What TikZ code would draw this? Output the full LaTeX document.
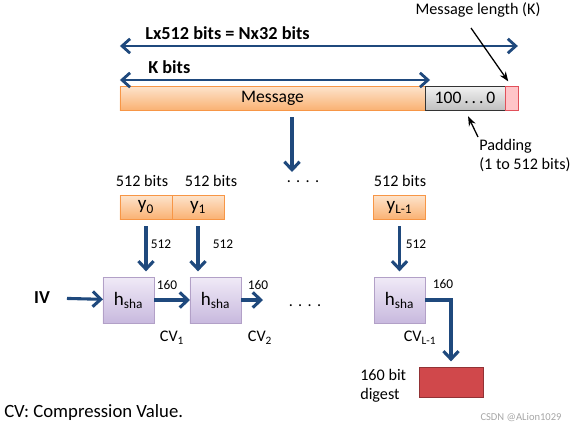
\documentclass[tikz,border=0pt]{standalone}
\usepackage{fontspec}
\setmainfont{Carlito}
\usetikzlibrary{arrows.meta,positioning,calc}
\definecolor{navy}{RGB}{31,73,125}
\definecolor{peach}{RGB}{253,228,205}
\definecolor{tangerine}{RGB}{250,178,115}
\definecolor{apricot}{RGB}{247,150,70}
\definecolor{lilac}{RGB}{240,234,247}
\definecolor{mauve}{RGB}{200,185,222}
\definecolor{plum}{RGB}{178,160,199}
\definecolor{rose}{RGB}{255,196,200}
\definecolor{cherry}{RGB}{225,80,90}
\definecolor{crimson}{RGB}{208,72,75}
\tikzset{
  flow/.style={-{Straight Barb[length=2mm,width=3.8mm]},line width=2.2pt,draw=navy},
  dim/.style={{Straight Barb[length=2mm,width=3.6mm]}-{Straight Barb[length=2mm,width=3.6mm]},line width=2pt,draw=navy},
  pointer/.style={-{Stealth[length=2.4mm,width=1.8mm]},line width=0.9pt,draw=black},
  bar/.style={draw=apricot,top color=peach,bottom color=tangerine,minimum height=0.6cm,
    inner sep=0pt,outer sep=0pt,font=\fontsize{12.5}{14}\selectfont},
  padbox/.style={draw=black!80,top color=white!95!black,bottom color=black!25,minimum height=0.6cm,
    inner sep=0pt,outer sep=0pt,font=\fontsize{12.5}{14}\selectfont},
  lenbox/.style={draw=cherry,fill=rose,minimum height=0.6cm,inner sep=0pt,outer sep=0pt},
  blk/.style={draw=apricot,top color=peach,bottom color=tangerine,minimum width=1.3cm,
    minimum height=0.6cm,inner sep=0pt,outer sep=0pt,font=\fontsize{13.5}{14}\selectfont},
  hbox/.style={draw=plum,top color=lilac,bottom color=mauve,minimum width=1.275cm,
    minimum height=1.15cm,inner sep=0pt,outer sep=0pt,font=\fontsize{13.5}{14}\selectfont},
  digest/.style={draw=crimson!70!black,fill=crimson,minimum width=1.6cm,minimum height=0.75cm,
    inner sep=0pt,outer sep=0pt},
  note/.style={inner sep=0pt,font=\fontsize{11.5}{13.5}\selectfont},
  bold/.style={inner sep=0pt,font=\fontsize{13}{14}\selectfont\bfseries},
  num/.style={inner sep=0pt,font=\fontsize{9.5}{11}\selectfont},
}

\begin{document}
\begin{tikzpicture}[x=0.025cm,y=-0.025cm]
  \useasboundingbox (0,0) rectangle (576,428);
  % message with padding and length field
  \node[bar,minimum width=7.625cm] (msg) at (272.5,98) {Message};
  \node[padbox,minimum width=2cm,anchor=west] (pad) at (msg.east) {100\,.\,.\,.\,0};
  \node[lenbox,minimum width=0.32cm,anchor=west] (len) at (pad.east) {};
  \draw[dim] (msg.west |- 0,46) -- (len.east |- 0,46);
  \draw[dim] (msg.west |- 0,80) -- ($(msg.east |- 0,80)+(5,0)$);
  \node[bold,anchor=west] (lx) at (145,33) {Lx512 bits = Nx32 bits};
  \node[bold,anchor=west] (kb) at (148,67) {K bits};
  \node[note] (ml) at (478,10) {Message length (K)};
  \coordinate (lt) at (471,28);
  \draw[pointer,shorten >=4pt] (lt) -- (len.north);
  \coordinate (pt) at (478,137);
  \draw[pointer,shorten >=5pt] (pt) -- (pad.south);
  \node[note,anchor=north west,align=left] (pd) at (479,139) {Padding\\(1 to 512 bits)};
  \coordinate (md) at (292,172);
  \draw[flow,shorten <=5pt] (msg.south -| md) -- (md);
  % 512-bit blocks
  \node[note] (l0) at (142,181) {512 bits};
  \node[note] (l1) at (211,181) {512 bits};
  \node[note] (l2) at (400,181) {512 bits};
  \node[note] (d0) at (303,182) {.\,\,.\,\,.\,\,.};
  \node[blk] (b0) at (146,207) {y\textsubscript{0}};
  \node[blk,anchor=west] (b1) at (b0.east) {y\textsubscript{1}};
  \node[blk] (b2) at (399.5,207) {y\textsubscript{L-1}};
  % compression stages
  \node[hbox] (h0) at (128.5,300) {h\textsubscript{sha}};
  \node[hbox] (h1) at (215.5,300) {h\textsubscript{sha}};
  \node[hbox] (h2) at (399.5,300) {h\textsubscript{sha}};
  \node[digest] (dg) at (451,382) {};
  \foreach \b/\h in {b0/h0,b1/h1,b2/h2}
    \draw[flow,shorten <=5pt,shorten >=4pt] (\b.south) -- (\b.south |- \h.north);
  \node[num] (n0) at (161,244) {512};
  \node[num] (n1) at (223,244) {512};
  \node[num] (n2) at (416,244) {512};
  \node[bold] (iv) at (42,298) {IV};
  \draw[flow,shorten <=12pt] (iv.east) -- (h0);
  \draw[flow] (h0) -- (h1);
  \coordinate (c2) at (263,300);
  \draw[flow] (h1) -- (c2);
  \node[note] (d1) at (305,306) {.\,\,.\,\,.\,\,.};
  \draw[flow,shorten >=4pt] (h2.east) -| (dg.north);
  \node[num] (o0) at (167,285) {160};
  \node[num] (o1) at (258,285) {160};
  \node[num] (o2) at (443,284) {160};
  \node[note] (cv1) at (172,338) {CV\textsubscript{1}};
  \node[note] (cv2) at (260,338) {CV\textsubscript{2}};
  \node[note] (cv3) at (420,338) {CV\textsubscript{L-1}};
  \node[note,anchor=west,align=left] (dt) at (360,386) {160 bit\\digest};
  \node[note,anchor=west,font=\fontsize{13.3}{15}\selectfont] (cv) at (4,413) {CV: Compression Value.};
  \node[inner sep=0pt,text=black!35,font=\fontsize{7.5}{9}\selectfont] (wm) at (521,417) {CSDN @ALion1029};
\end{tikzpicture}
\end{document}
